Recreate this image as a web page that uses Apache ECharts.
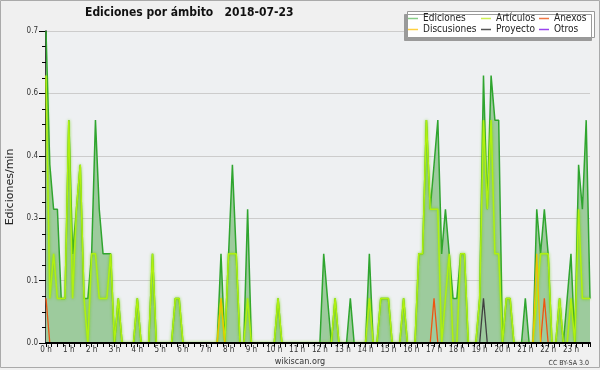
<!DOCTYPE html>
<html><head><meta charset="utf-8">
<script src="https://cdn.jsdelivr.net/npm/echarts@6/dist/echarts.min.js"></script>
<style>html,body{margin:0;padding:0;background:#fff}#c{width:600px;height:370px}</style>
</head><body><div id="c"></div>
<script>
// 10-minute bins over the day (144 bins, 00:00 .. 23:50)
const BIN_MINUTES = 10;
const hourTickLabelSuffix = ' h';

const ediciones = [
  0.7,0.4,0.3,0.3,0.1,0.1,0.5,0.2,0.3,0.4,0.1,0.1,
  0.2,0.5,0.3,0.2,0.2,0.2,0,0.1,0,0,0,0,
  0.1,0,0,0,0.2,0,0,0,0,0,0.1,0.1,
  0,0,0,0,0,0,0,0,0,0,0.2,0,
  0.2,0.4,0.2,0,0,0.3,0,0,0,0,0,0,
  0,0.1,0,0,0,0,0,0,0,0,0,0,
  0,0.2,0.1,0,0.1,0,0,0,0.1,0,0,0,
  0,0.2,0,0,0.1,0.1,0.1,0,0,0,0.1,0,
  0,0,0.2,0.2,0.5,0.3,0.4,0.5,0.2,0.3,0.2,0.1,
  0.1,0.2,0.2,0,0,0,0.1,0.6,0.3,0.6,0.5,0.5,
  0,0.1,0.1,0,0,0,0.1,0,0,0.3,0.2,0.3,
  0.2,0,0,0.1,0,0.1,0.2,0,0.4,0.3,0.5,0.1
];
const articulos = [
  0.6,0.1,0.2,0.1,0.1,0.1,0.5,0.1,0.3,0.4,0.1,0,
  0.2,0.2,0.1,0.1,0.1,0.2,0,0.1,0,0,0,0,
  0.1,0,0,0,0.2,0,0,0,0,0,0.1,0.1,
  0,0,0,0,0,0,0,0,0,0,0.1,0,
  0.2,0.2,0.2,0,0,0.1,0,0,0,0,0,0,
  0,0.1,0,0,0,0,0,0,0,0,0,0,
  0,0,0,0,0.1,0,0,0,0,0,0,0,
  0,0.1,0,0,0.1,0.1,0.1,0,0,0,0.1,0,
  0,0,0.2,0.2,0.5,0.3,0.3,0.3,0,0.1,0.2,0,
  0,0.2,0.2,0,0,0,0.1,0.5,0.3,0.5,0.2,0.2,
  0,0.1,0.1,0,0,0,0,0,0,0.1,0.2,0.2,
  0.2,0,0,0.1,0,0,0.1,0,0.3,0.1,0.1,0.1
];
const anexos = [
  0.1,0,0,0,0,0,0,0,0,0,0,0,
  0,0,0,0,0,0,0,0,0,0,0,0,
  0,0,0,0,0,0,0,0,0,0,0,0,
  0,0,0,0,0,0,0,0,0,0,0,0,
  0,0,0,0,0,0,0,0,0,0,0,0,
  0,0,0,0,0,0,0,0,0,0,0,0,
  0,0,0,0,0,0,0,0,0,0,0,0,
  0,0,0,0,0,0,0,0,0,0,0,0,
  0,0,0,0,0,0,0.1,0,0,0,0,0,
  0,0,0,0,0,0,0,0,0,0,0,0,
  0,0,0,0,0,0,0,0,0,0,0,0.1,
  0,0,0,0,0,0,0,0,0,0,0,0
];
const discusiones = [
  0,0,0,0,0,0,0,0,0,0,0,0,
  0,0,0,0,0,0,0,0,0,0,0,0,
  0,0,0,0,0,0,0,0,0,0,0,0,
  0,0,0,0,0,0,0,0,0,0,0.1,0,
  0,0,0,0,0,0,0,0,0,0,0,0,
  0,0,0,0,0,0,0,0,0,0,0,0,
  0,0,0,0,0,0,0,0,0,0,0,0,
  0,0,0,0,0,0,0,0,0,0,0,0,
  0,0,0,0,0,0,0,0,0,0,0,0,
  0,0,0,0,0,0,0,0,0,0,0,0,
  0,0,0,0,0,0,0,0,0,0.2,0,0,
  0,0,0,0,0,0,0,0,0,0,0,0
];
const proyecto = [
  0,0,0,0,0,0,0,0,0,0,0,0,
  0,0,0,0,0,0,0,0,0,0,0,0,
  0,0,0,0,0,0,0,0,0,0,0,0,
  0,0,0,0,0,0,0,0,0,0,0,0,
  0,0,0,0,0,0,0,0,0,0,0,0,
  0,0,0,0,0,0,0,0,0,0,0,0,
  0,0,0,0,0,0,0,0,0,0,0,0,
  0,0,0,0,0,0,0,0,0,0,0,0,
  0,0,0,0,0,0,0,0,0,0,0,0,
  0,0,0,0,0,0,0,0.1,0,0,0,0,
  0,0,0,0,0,0,0,0,0,0,0,0,
  0,0,0,0,0,0,0,0,0,0,0,0
];
const otros = [
  0,0,0,0,0,0,0,0,0,0,0,0,
  0,0,0,0,0,0,0,0,0,0,0,0,
  0,0,0,0,0,0,0,0,0,0,0,0,
  0,0,0,0,0,0,0,0,0,0,0,0,
  0,0,0,0,0,0,0,0,0,0,0,0,
  0,0,0,0,0,0,0,0,0,0,0,0,
  0,0,0,0,0,0,0,0,0,0,0,0,
  0,0,0,0,0,0,0,0,0,0,0,0,
  0,0,0,0,0,0,0,0,0,0,0,0,
  0,0,0,0,0,0,0,0,0,0,0,0,
  0,0,0,0,0,0,0,0,0,0,0,0,
  0,0,0,0,0,0,0,0,0,0,0,0
];
const titleText = 'Ediciones por ámbito   2018-07-23';
const yAxisName = 'Ediciones/min';

const F = "'DejaVu Sans Condensed','DejaVu Sans',sans-serif";
const toPairs = arr => arr.map((v, i) => [i * BIN_MINUTES, v]);
const lastMinute = (ediciones.length - 1) * BIN_MINUTES;

const lineSeries = (name, data, color, width, extra) => Object.assign({
  name, type: 'line', data: toPairs(data), showSymbol: false, symbol: 'none',
  lineStyle: { color, width }, itemStyle: { color }, silent: true
}, extra || {});

const legendText = { fontFamily: F, fontSize: 10, color: '#222', lineHeight: 11 };
const legendCol = (left, items) => ({
  left, top: 13, orient: 'vertical', padding: 0, itemGap: 0,
  itemWidth: 10, itemHeight: 1.5, icon: 'rect', selectedMode: false,
  textStyle: legendText,
  data: items.map(([name, color]) => ({ name, itemStyle: { color, borderWidth: 0 } }))
});

const chart = echarts.init(document.getElementById('c'), null, { renderer: 'canvas' });
chart.setOption({
  animation: false,
  backgroundColor: '#f0f0f0',
  title: { text: titleText, left: 85, top: 7, padding: 0,
    textStyle: { fontFamily: F, fontWeight: 'bold', fontSize: 12, color: '#111' } },
  grid: { left: 46, right: 10, top: 31, bottom: 27, show: true, backgroundColor: '#eef0f2', borderWidth: 0,
    containLabel: false, outerBoundsMode: 'none' },
  xAxis: [{
    type: 'value', min: 0, max: lastMinute, interval: 60, position: 'bottom',
    axisLine: { lineStyle: { color: '#000', width: 1.5 } },
    axisTick: { length: 4, lineStyle: { color: '#000' } },
    minorTick: { show: true, splitNumber: 4, length: 4, lineStyle: { color: '#000' } },
    splitLine: { show: false },
    axisLabel: { formatter: v => (v % 60 === 0 ? (v / 60) + hourTickLabelSuffix : ''),
      fontFamily: F, fontSize: 8, color: '#333', margin: 3, showMaxLabel: false }
  }, {
    // overlay of the baseline so it sits above the series lines, as in the reference
    type: 'value', min: 0, max: lastMinute, position: 'bottom', offset: 0, z: 10,
    axisLine: { show: true, lineStyle: { color: '#000', width: 2 } },
    axisTick: { show: false }, axisLabel: { show: false }, splitLine: { show: false }
  }],
  yAxis: {
    type: 'value', min: 0, max: 0.7, interval: 0.14,
    name: yAxisName, nameLocation: 'middle', nameGap: 29, nameRotate: 90,
    nameTextStyle: { fontFamily: 'DejaVu Sans', fontSize: 11, color: '#222' },
    axisLine: { show: true, lineStyle: { color: '#000', width: 1.5 } },
    axisTick: { show: true, length: 7, lineStyle: { color: '#000' } },
    minorTick: { show: true, splitNumber: 4, length: 4, lineStyle: { color: '#000' } },
    splitLine: { show: true, lineStyle: { color: '#cccccc', width: 1 } },
    axisLabel: { formatter: v => v.toFixed(1), fontFamily: F, fontSize: 8, color: '#333', margin: 8 }
  },
  legend: [
    legendCol(408, [['Ediciones', '#88cc88'], ['Discusiones', '#ffd040']]),
    legendCol(481, [['Artículos', '#ccee55'], ['Proyecto', '#555555']]),
    legendCol(539, [['Anexos', '#ee7744'], ['Otros', '#9944ee']])
  ],
  series: [
    lineSeries('Ediciones', ediciones, '#2fa52f', 1.5, {
      areaStyle: { color: '#9dcb9d', opacity: 1 }, z: 2
    }),
    lineSeries('Artículos', articulos, '#aaee11', 1.5, {
      lineStyle: { color: '#b0f010', width: 1.5, shadowBlur: 3, shadowColor: 'rgba(110,210,0,0.9)' }, z: 3
    }),
    lineSeries('Anexos', anexos, '#ee5511', 1.3, { z: 4 }),
    lineSeries('Discusiones', discusiones, '#f0c000', 1.3, { z: 4 }),
    lineSeries('Proyecto', proyecto, '#404040', 1.3, { z: 4 }),
    lineSeries('Otros', otros, '#9933ee', 1.3, { z: 4 })
  ],
  graphic: [
    { type: 'rect', z: 3, shape: { x: 407.5, y: 11.5, width: 187, height: 26 },
      style: { fill: '#ffffff', stroke: '#999999', lineWidth: 1,
        shadowColor: '#9a9a9a', shadowOffsetX: -3, shadowOffsetY: 3, shadowBlur: 0 } },
    { type: 'rect', z: 10, silent: true, shape: { x: 0.5, y: 0.5, width: 599, height: 367 },
      style: { fill: null, stroke: '#aaaaaa', lineWidth: 1 } },
    { type: 'text', z: 10, x: 300, y: 362,
      style: { text: 'wikiscan.org', fontFamily: F, fontSize: 9, fill: '#333', align: 'center', verticalAlign: 'middle' } },
    { type: 'text', z: 10, x: 589, y: 363,
      style: { text: 'CC BY-SA 3.0', fontFamily: F, fontSize: 7, fill: '#333', align: 'right', verticalAlign: 'middle' } }
  ]
});
</script></body></html>
